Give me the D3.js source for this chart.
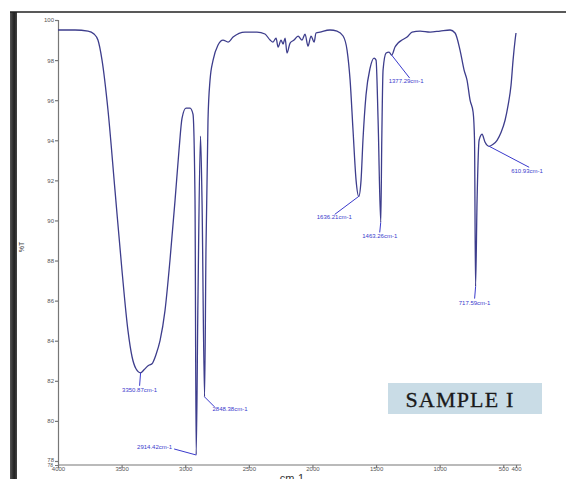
<!DOCTYPE html>
<html>
<head>
<meta charset="utf-8">
<title>FTIR - Sample I</title>
<script src="https://d3js.org/d3.v7.min.js"></script>
<style>
	body { margin: 0; background: #fff; }
	svg { display: block; }
	.axis path, .axis line { stroke: #777; stroke-width: 1.2; }
	.axis text { font-family: "Liberation Sans", Arial, sans-serif; font-size: 6px; fill: #555; }
	.peak-label { font-family: "Liberation Sans", Arial, sans-serif; font-size: 6px; fill: #3a3acc; }
</style>
</head>
<body>
<svg id="chart" width="566" height="479"></svg>
<script>

	// spectrum: wavenumber (cm-1) and transmittance (%T)
	var wavenumber = [4000, 3866, 3764, 3717, 3686, 3654, 3607, 3552, 3497, 3450,
		3418, 3387, 3351, 3324, 3292, 3261, 3230, 3198, 3159, 3120,
		3080, 3049, 3025, 2994, 2962, 2939, 2923, 2914, 2900, 2880,
		2868, 2848, 2837, 2821, 2805, 2781, 2742, 2703, 2663, 2624,
		2530, 2436, 2373, 2333, 2310, 2286, 2270, 2247, 2231, 2215,
		2200, 2176, 2145, 2113, 2082, 2058, 2035, 2011, 1987, 1972,
		1940, 1862, 1807, 1759, 1728, 1704, 1681, 1657, 1636, 1618,
		1603, 1579, 1547, 1516, 1500, 1484, 1463, 1455, 1445, 1421,
		1398, 1377, 1351, 1327, 1296, 1256, 1217, 1154, 1075, 997,
		918, 879, 840, 808, 785, 761, 737, 726, 718, 706,
		690, 667, 643, 611, 580, 549, 517, 486, 462, 439,
		423, 407, 400];
	var transmittance = [99.5, 99.5, 99.45, 99.3, 99.0, 98.0, 95.5, 91.5, 87.5, 84.5,
		83.2, 82.6, 82.4, 82.55, 82.75, 82.85, 83.3, 84.0, 85.5, 88.0,
		91.0, 93.5, 95.1, 95.6, 95.6, 95.3, 91.0, 78.3, 86.0, 94.2,
		91.0, 81.2, 88.5, 95.0, 97.0, 98.0, 98.75, 99.0, 98.9, 99.15,
		99.4, 99.4, 99.3, 99.0, 98.9, 99.1, 98.65, 99.0, 98.8, 99.1,
		98.35, 98.85, 99.0, 99.2, 99.0, 99.3, 98.7, 99.2, 98.9, 99.35,
		99.4, 99.5, 99.45, 99.2, 98.5, 97.0, 94.5, 92.0, 91.2, 92.0,
		94.0, 96.25, 97.6, 98.1, 98.0, 95.0, 89.9, 94.0, 97.5, 98.35,
		98.4, 98.25, 98.65, 98.85, 99.0, 99.15, 99.4, 99.45, 99.4, 99.45,
		99.5, 99.35, 98.5, 97.5, 97.0, 96.0, 95.4, 94.0, 86.7, 91.0,
		94.0, 94.3, 93.9, 93.7, 93.8, 94.0, 94.4, 95.0, 95.75, 96.75,
		98.0, 99.0, 99.35];

	// marked peaks
	var peakWavenumber = [3350.87, 2914.42, 2848.38, 1636.21, 1463.26, 1377.29, 717.59, 610.93];
	var peakT = [82.4, 78.3, 81.2, 91.2, 89.9, 98.25, 86.7, 93.7];
	var peakText = ["3350.87cm-1", "2914.42cm-1", "2848.38cm-1", "1636.21cm-1",
		"1463.26cm-1", "1377.29cm-1", "717.59cm-1", "610.93cm-1"];

	var xTicks = [4000, 3500, 3000, 2500, 2000, 1500, 1000, 500, 400];
	var yTicks = [78, 80, 82, 84, 86, 88, 90, 92, 94, 96, 98, 100];
	var yMinLabel = "78";

	// label placement: leader end (dx, dy) and text anchor offset, in px from the peak
	var labelPos = [
		{lx: -1, ly: 13, tx: -1, ty: 19, anchor: "middle"},
		{lx: -22, ly: -6, tx: -59, ty: -6, anchor: "start"},
		{lx: 10, ly: 10, tx: 8, ty: 14, anchor: "start"},
		{lx: -24, ly: 18, tx: -42, ty: 23, anchor: "start"},
		{lx: -1, ly: 10, tx: -1, ty: 16, anchor: "middle"},
		{lx: 18, ly: 23, tx: -3, ty: 28, anchor: "start"},
		{lx: -1, ly: 12, tx: -1, ty: 18, anchor: "middle"},
		{lx: 40, ly: 21, tx: 22, ty: 27, anchor: "start"}
	];

	var svg = d3.select("#chart");

	svg.append("rect").attr("width", 566).attr("height", 479).attr("fill", "#fff");

	// frame: top rule and dark left edge
	var grad = svg.append("defs").append("linearGradient").attr("id", "edge");
	grad.append("stop").attr("offset", "0%").attr("stop-color", "#555");
	grad.append("stop").attr("offset", "60%").attr("stop-color", "#222");
	grad.append("stop").attr("offset", "100%").attr("stop-color", "#444");
	svg.append("rect").attr("x", 10).attr("y", 12).attr("width", 7).attr("height", 467)
		.attr("fill", "url(#edge)");
	svg.append("line").attr("x1", 10).attr("x2", 566).attr("y1", 12).attr("y2", 12)
		.attr("stroke", "#222").attr("stroke-width", 1.6);

	var x = d3.scaleLinear().domain([4000, 400]).range([58, 516]);
	var y = d3.scaleLinear().domain([77.8, 100]).range([465, 20]);

	var xAxis = svg.append("g").attr("class", "axis")
		.attr("transform", "translate(0,465)")
		.call(d3.axisBottom(x).tickValues(xTicks).tickSize(3).tickFormat(d3.format("d")));
	xAxis.select(".domain").attr("d", "M58,0H521");
	xAxis.selectAll("text").attr("dy", "0.55em").attr("y", 3);

	var yAxis = svg.append("g").attr("class", "axis")
		.attr("transform", "translate(58,0)")
		.call(d3.axisLeft(y).tickValues(yTicks).tickSize(3));
	yAxis.selectAll("text").attr("x", -4);
	yAxis.selectAll(".tick").filter(function(d) { return d === 78; })
		.select("text").attr("dy", "0.1em");
	// label at the bottom end of the axis, tucked under the 78 tick
	yAxis.append("text")
		.attr("x", -5).attr("y", y.range()[0]).attr("dy", "0.35em")
		.attr("text-anchor", "end")
		.style("font-size", "5px")
		.text(yMinLabel);

	svg.append("text").attr("transform", "translate(24,247) rotate(-90)")
		.attr("text-anchor", "middle")
		.style("font-family", "Liberation Sans, Arial, sans-serif")
		.style("font-size", "7px").style("fill", "#444")
		.text("%T");

	svg.append("text").attr("x", 292).attr("y", 482)
		.attr("text-anchor", "middle")
		.style("font-family", "Liberation Sans, Arial, sans-serif")
		.style("font-size", "11px").style("fill", "#333")
		.text("cm-1");

	// spectrum
	var line = d3.line()
		.x(function(d, i) { return x(wavenumber[i]); })
		.y(function(d) { return y(d); })
		.curve(d3.curveMonotoneX);

	svg.append("path")
		.attr("d", line(transmittance))
		.attr("fill", "none")
		.attr("stroke", "#3d3d8c")
		.attr("stroke-width", 1.3)
		.attr("stroke-linejoin", "round");

	// peak labels
	var peaks = svg.append("g");
	peakWavenumber.forEach(function(w, i) {
		var px = x(w), py = y(peakT[i]), p = labelPos[i];
		peaks.append("line")
			.attr("x1", px).attr("y1", py)
			.attr("x2", px + p.lx).attr("y2", py + p.ly)
			.attr("stroke", "#3a3acc").attr("stroke-width", 1);
		peaks.append("text").attr("class", "peak-label")
			.attr("x", px + p.tx).attr("y", py + p.ty)
			.attr("text-anchor", p.anchor)
			.text(peakText[i]);
	});

	// sample tag
	svg.append("rect").attr("x", 388).attr("y", 383).attr("width", 154).attr("height", 31)
		.attr("fill", "#c9dce6");
	svg.append("text").attr("x", 460).attr("y", 407)
		.attr("text-anchor", "middle")
		.style("font-family", "Liberation Serif, Times New Roman, serif")
		.style("font-size", "22px").style("letter-spacing", "1.2px").style("fill", "#1a1a1a")
		.style("stroke", "#1a1a1a").style("stroke-width", 0.3)
		.text("SAMPLE I");

</script>
</body>
</html>
